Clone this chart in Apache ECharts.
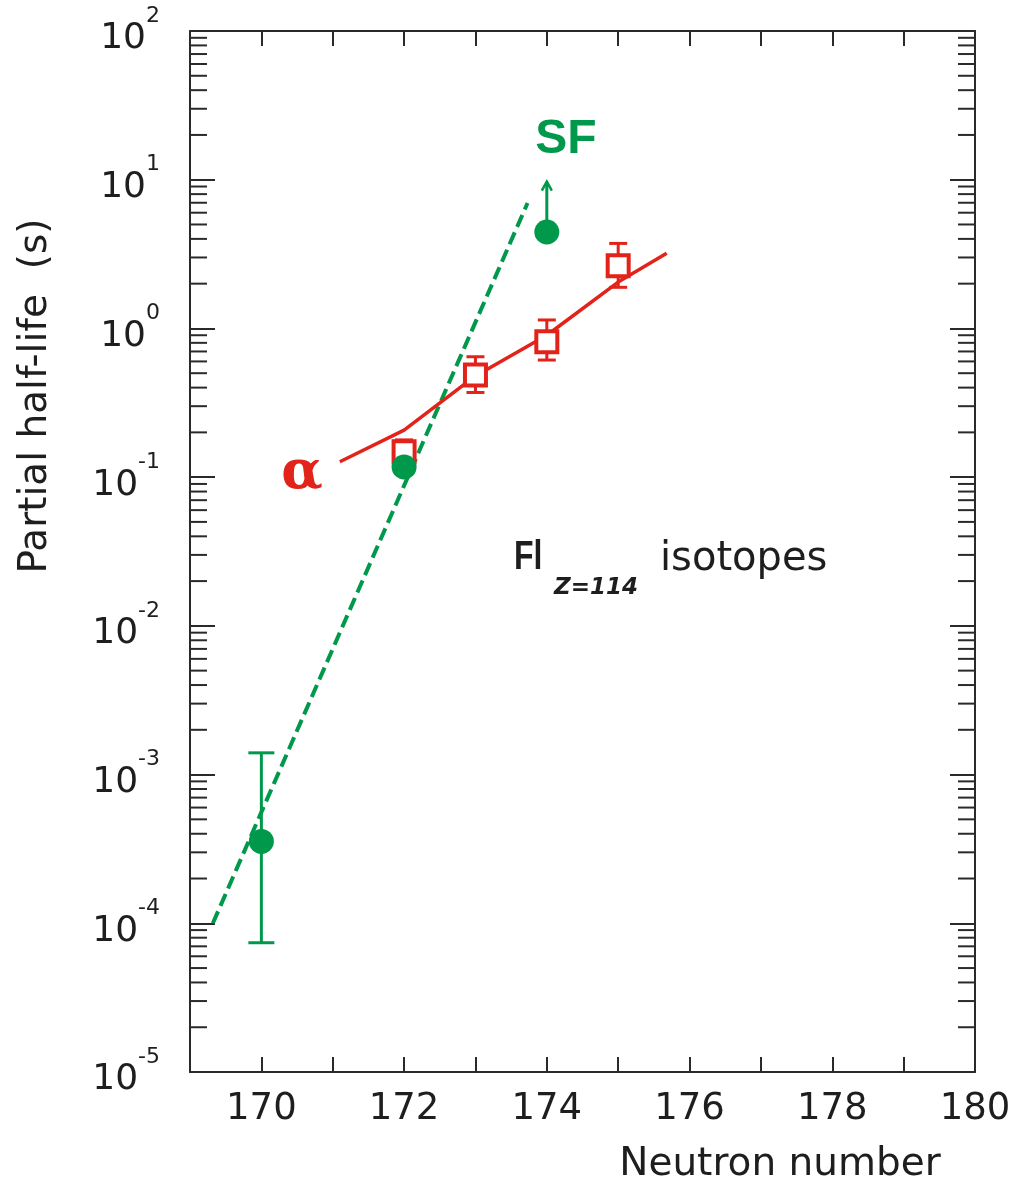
<!DOCTYPE html>
<html>
<head>
<meta charset="utf-8">
<script src="https://cdn.jsdelivr.net/npm/echarts@6/dist/echarts.min.js"></script>
<style>
html,body{margin:0;padding:0;background:#fff;}
#chart{width:1017px;height:1183px;}
</style>
</head>
<body>
<div id="chart"></div>
<script>
// ---- data ----
const xTicks = [170, 172, 174, 176, 178, 180];
const yDecades = [-5, -4, -3, -2, -1, 0, 1, 2];
const minorMultipliers = [2, 3, 4, 5, 6, 7, 8, 9];

// SF (spontaneous fission) partial half-lives
const sfN = [170, 172, 174];
const sfT = [3.55e-4, 0.117, 4.45];
const sfErrN = [170];
const sfErrLow = [7.4e-5];
const sfErrHigh = [1.40e-3];
const sfLimitN = [174];
const sfLimitFrom = [4.45];
const sfLimitTo = [9.7];

// alpha partial half-lives
const alphaN = [172, 173, 174, 175];
const alphaT = [0.148, 0.486, 0.815, 2.64];
const alphaLow = [0.123, 0.371, 0.613, 1.89];
const alphaHigh = [0.178, 0.645, 1.14, 3.73];

// systematics / fit lines
const sfFitN = [169.32, 173.73];
const sfFitT = [1.0e-4, 6.97];
const alphaFitN = [171.1, 172, 173, 174, 175, 175.68];
const alphaFitT = [0.127, 0.207, 0.479, 0.90, 2.05, 3.2];

// ---- styles ----
const GREEN = '#00984a';
const RED = '#e2231a';
const AX = '#2a2a2a';
const FONT = 'DejaVu Sans';

const zip = (a, b) => a.map((v, i) => [v, b[i]]);

const minorTickVals = [];
yDecades.slice(0, -1).forEach(d => {
  minorMultipliers.forEach(m => minorTickVals.push([169, m * Math.pow(10, d)]));
});

function errRender(color, capHalf, lw) {
  return function (params, api) {
    const x = api.value(0);
    const pLo = api.coord([x, api.value(1)]);
    const pHi = api.coord([x, api.value(2)]);
    const st = { stroke: color, lineWidth: lw };
    return {
      type: 'group',
      children: [
        { type: 'line', shape: { x1: pLo[0], y1: pLo[1], x2: pHi[0], y2: pHi[1] }, style: st },
        { type: 'line', shape: { x1: pHi[0] - capHalf, y1: pHi[1], x2: pHi[0] + capHalf, y2: pHi[1] }, style: st },
        { type: 'line', shape: { x1: pLo[0] - capHalf, y1: pLo[1], x2: pLo[0] + capHalf, y2: pLo[1] }, style: st }
      ]
    };
  };
}

const axisLineStyle = { color: AX, width: 2 };

const chart = echarts.init(document.getElementById('chart'), null, { renderer: 'canvas' });

const option = {
  backgroundColor: '#fff',
  animation: false,
  grid: {
    left: 190, right: 42, top: 31, bottom: 111,
    containLabel: false,
    outerBoundsMode: 'none'
  },
  xAxis: [
    {
      type: 'value', position: 'bottom', min: 169, max: 180, interval: 1,
      axisLine: { show: true, onZero: false, lineStyle: axisLineStyle },
      axisTick: { show: true, inside: true, length: 15, lineStyle: { color: AX, width: 2 } },
      axisLabel: {
        show: true, margin: 19, fontFamily: FONT, fontSize: 37, color: '#1e1e1e',
        formatter: v => (xTicks.indexOf(v) >= 0 ? String(v) : '')
      },
      splitLine: { show: false }
    },
    {
      type: 'value', position: 'top', min: 169, max: 180, interval: 1,
      axisLine: { show: true, onZero: false, lineStyle: axisLineStyle },
      axisTick: { show: true, inside: true, length: 15, lineStyle: { color: AX, width: 2 } },
      axisLabel: { show: false },
      splitLine: { show: false }
    }
  ],
  yAxis: [
    {
      type: 'log', logBase: 10, position: 'left', min: 1e-5, max: 100, interval: 1,
      axisLine: { show: true, onZero: false, lineStyle: axisLineStyle },
      axisTick: { show: true, inside: true, length: 25, lineStyle: { color: AX, width: 2 } },
      axisLabel: {
        show: true, margin: 30, color: '#1e1e1e',
        formatter: v => {
          const e = Math.round(Math.log10(v));
          return '{b|10}{s|' + e + '}';
        },
        rich: {
          b: { fontFamily: FONT, fontSize: 36, color: '#1e1e1e', padding: [16, 0, 0, 0] },
          s: { fontFamily: FONT, fontSize: 22, color: '#1e1e1e', verticalAlign: 'top' }
        }
      },
      splitLine: { show: false }
    },
    {
      type: 'log', logBase: 10, position: 'right', min: 1e-5, max: 100, interval: 1,
      axisLine: { show: true, onZero: false, lineStyle: axisLineStyle },
      axisTick: { show: true, inside: true, length: 25, lineStyle: { color: AX, width: 2 } },
      axisLabel: { show: false },
      splitLine: { show: false }
    }
  ],
  series: [
    {
      // minor log ticks on left and right frame
      type: 'custom', xAxisIndex: 0, yAxisIndex: 0, silent: true, z: 1,
      data: minorTickVals,
      renderItem: function (params, api) {
        const p = api.coord([api.value(0), api.value(1)]);
        const cs = params.coordSys;
        const st = { stroke: AX, lineWidth: 2 };
        return {
          type: 'group', children: [
            { type: 'line', shape: { x1: cs.x, y1: p[1], x2: cs.x + 17, y2: p[1] }, style: st },
            { type: 'line', shape: { x1: cs.x + cs.width - 17, y1: p[1], x2: cs.x + cs.width, y2: p[1] }, style: st }
          ]
        };
      }
    },
    {
      name: 'SF fit', type: 'line', xAxisIndex: 0, yAxisIndex: 0, z: 3,
      data: zip(sfFitN, sfFitT), symbol: 'none',
      lineStyle: { color: GREEN, width: 4, type: [13, 6] }
    },
    {
      name: 'alpha fit', type: 'line', xAxisIndex: 0, yAxisIndex: 0, z: 3,
      data: zip(alphaFitN, alphaFitT), symbol: 'none',
      lineStyle: { color: RED, width: 3.5 }
    },
    {
      name: 'alpha err', type: 'custom', xAxisIndex: 0, yAxisIndex: 0, z: 4,
      data: alphaN.map((n, i) => [n, alphaLow[i], alphaHigh[i]]),
      encode: { x: 0, y: [1, 2] },
      renderItem: errRender(RED, 9, 3)
    },
    {
      name: 'SF err', type: 'custom', xAxisIndex: 0, yAxisIndex: 0, z: 4,
      data: sfErrN.map((n, i) => [n, sfErrLow[i], sfErrHigh[i]]),
      encode: { x: 0, y: [1, 2] },
      renderItem: errRender(GREEN, 13, 3)
    },
    {
      name: 'SF limit', type: 'custom', xAxisIndex: 0, yAxisIndex: 0, z: 4,
      data: sfLimitN.map((n, i) => [n, sfLimitFrom[i], sfLimitTo[i]]),
      encode: { x: 0, y: [1, 2] },
      renderItem: function (params, api) {
        const x = api.value(0);
        const p0 = api.coord([x, api.value(1)]);
        const p1 = api.coord([x, api.value(2)]);
        const st = { stroke: GREEN, lineWidth: 3, fill: null };
        return {
          type: 'group', children: [
            { type: 'line', shape: { x1: p0[0], y1: p0[1], x2: p1[0], y2: p1[1] }, style: st },
            { type: 'polyline', shape: { points: [[p1[0] - 5, p1[1] + 9], [p1[0], p1[1]], [p1[0] + 5, p1[1] + 9]] }, style: { stroke: GREEN, lineWidth: 2.5, fill: null } }
          ]
        };
      }
    },
    {
      name: 'alpha', type: 'scatter', xAxisIndex: 0, yAxisIndex: 0, z: 5,
      data: zip(alphaN, alphaT), symbol: 'rect', symbolSize: 21,
      itemStyle: { color: '#ffffff', borderColor: RED, borderWidth: 4, opacity: 1 }
    },
    {
      name: 'SF', type: 'scatter', xAxisIndex: 0, yAxisIndex: 0, z: 6,
      data: zip(sfN, sfT), symbol: 'circle', symbolSize: 25,
      itemStyle: { color: GREEN, opacity: 1 }
    }
  ],
  graphic: [
    {
      type: 'text', x: 36, y: 396, rotation: Math.PI / 2, z: 10,
      style: { text: 'Partial half-life  (s)', fontFamily: FONT, fontSize: 39, fill: '#1e1e1e', align: 'center', verticalAlign: 'middle' }
    },
    {
      type: 'text', x: 780, y: 1165, z: 10,
      style: { text: 'Neutron number', fontFamily: FONT, fontSize: 39, fill: '#1e1e1e', align: 'center', verticalAlign: 'middle' }
    },
    {
      type: 'text', x: 566, y: 140, z: 10,
      style: { text: 'SF', fontFamily: 'Liberation Sans', fontWeight: 'bold', fontSize: 48, fill: GREEN, align: 'center', verticalAlign: 'middle' }
    },
    {
      type: 'text', x: 302, y: 474, z: 10,
      style: { text: 'α', fontFamily: 'DejaVu Serif', fontWeight: 'bold', fontSize: 54, fill: RED, align: 'center', verticalAlign: 'middle' }
    },
    {
      type: 'text', x: 514, y: 558, scaleX: 0.8, z: 10,
      style: { text: 'Fl', fontFamily: 'Liberation Sans', fontWeight: 'bold', fontSize: 40, fill: '#1e1e1e', align: 'left', verticalAlign: 'middle' }
    },
    {
      type: 'text', x: 554, y: 588, z: 10,
      style: { text: 'Z=114', fontFamily: FONT, fontStyle: 'italic', fontWeight: 'bold', fontSize: 23, fill: '#1e1e1e', align: 'left', verticalAlign: 'middle' }
    },
    {
      type: 'text', x: 660, y: 560, z: 10,
      style: { text: 'isotopes', fontFamily: FONT, fontSize: 40, fill: '#1e1e1e', align: 'left', verticalAlign: 'middle' }
    }
  ]
};

chart.setOption(option);
</script>
</body>
</html>
